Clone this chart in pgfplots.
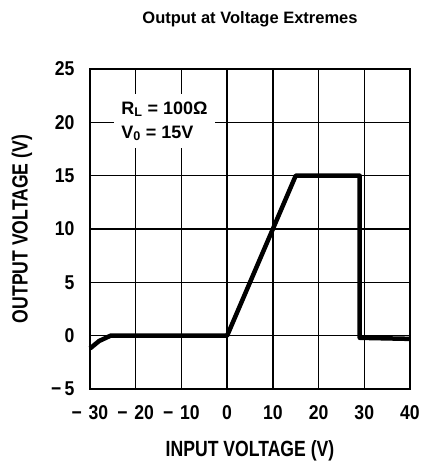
\documentclass[border=0pt]{standalone}
\usepackage{fontspec}
\setmainfont{Liberation Sans}
\newfontfamily\cond{Liberation Sans Bold}[FakeStretch=0.8]
\newfontfamily\condt{Liberation Sans Bold}[FakeStretch=0.88]
\usepackage{pgfplots}
\pgfplotsset{compat=1.18}
\begin{document}
\begin{tikzpicture}[x=1pt,y=1pt]
\path (0,0) rectangle (425,466);
\begin{axis}[
  scale only axis, width=320pt, height=320pt,
  at={(90pt,77pt)}, anchor=south west,
  xmin=-30, xmax=40, ymin=-5, ymax=25,
  xtick={-30,-20,-10,0,10,20,30,40},
  xticklabels={−\,\,30,−\,\,20,−\,\,10,0,10,20,30,40},
  ytick={-5,0,5,10,15,20,25},
  yticklabels={−\,5,0,5,10,15,20,25},
  major tick length=0pt,
  grid=major,
  major grid style={black, line width=1.3pt},
  axis line style={black, line width=2.2pt},
  tick label style={font=\condt\fontsize{20}{20}\selectfont},
  xticklabel style={yshift=-13pt},
  yticklabel style={xshift=-12pt},
  xlabel={INPUT VOLTAGE (V)},
  ylabel={OUTPUT VOLTAGE (V)},
  label style={font=\cond\fontsize{22}{22}\selectfont},
  xlabel style={yshift=-14pt},
  ylabel style={yshift=12pt},
  title={Output at Voltage Extremes},
  title style={font=\bfseries\fontsize{16.5}{16.5}\selectfont, yshift=32pt},
  clip=false,
]
\addplot[black, line width=4.5pt, line join=round] coordinates {
 (-30,-1.2) (-28,-0.5) (-25.5,0) (0,0) (15,15) (29,15) (29,-0.2) (40,-0.3)
};
\node[fill=white, anchor=center, align=left, inner xsep=7pt, inner ysep=7pt,
  font=\bfseries\fontsize{18}{24}\selectfont]
  at (axis cs:-13.7,20.1) {R\textsubscript{L} = 100Ω\\V\textsubscript{0} = 15V};
\end{axis}
\end{tikzpicture}
\end{document}
